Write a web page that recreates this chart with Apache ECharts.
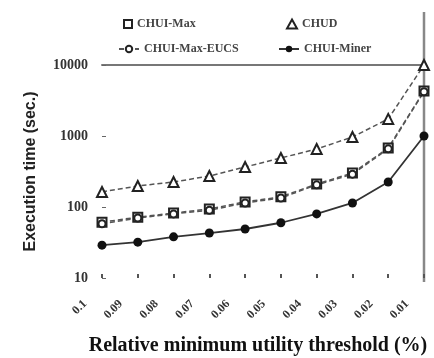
<!DOCTYPE html>
<html>
<head>
<meta charset="utf-8">
<script src="https://cdn.jsdelivr.net/npm/echarts@6/dist/echarts.min.js"></script>
<style>
  html, body { margin: 0; padding: 0; background: #fff; }
  #chart { width: 434px; height: 358px; }
</style>
</head>
<body>
<div id="chart"></div>
<script>
const thresholds = ["0.1", "0.09", "0.08", "0.07", "0.06", "0.05", "0.04", "0.03", "0.02", "0.01"];
const yTicks = [10, 100, 1000, 10000];

const chuiMax = [61, 72, 82, 94, 118, 139, 211, 301, 678, 4300];
const chud = [163, 198, 225, 273, 366, 490, 656, 968, 1740, 10000];
const chuiMaxEucs = [58, 70, 80, 90, 114, 134, 205, 290, 660, 4200];
const chuiMiner = [29, 32, 38, 43, 49, 60, 80, 114, 225, 1000];

const lineColor = "#555";
const markColor = "#222";

const dashedLine = { color: lineColor, width: 1.5, type: [5, 3] };

const chart = echarts.init(document.getElementById("chart"));

const legendText = { color: "#444", fontSize: 12, fontFamily: "Liberation Serif", fontWeight: "bold" };

chart.setOption({
  animation: false,
  grid: { left: 102, right: 10, top: 65, bottom: 80, outerBoundsMode: "none", containLabel: false },
  legend: [
    { data: [{ name: "CHUI-Max", icon: "emptyRect" }], left: 118, top: 13, itemWidth: 8, itemHeight: 8, textStyle: legendText },
    { data: [{ name: "CHUD", icon: "emptyTriangle" }], left: 281, top: 13, itemWidth: 10, itemHeight: 9, textStyle: legendText },
    { data: ["CHUI-Max-EUCS"], left: 113, top: 38, itemWidth: 20, itemHeight: 8, textStyle: legendText },
    { data: ["CHUI-Miner"], left: 273, top: 38, itemWidth: 20, itemHeight: 8, textStyle: legendText }
  ],
  xAxis: [
    {
      type: "category",
      data: thresholds,
      boundaryGap: false,
      name: "Relative minimum utility threshold (%)",
      nameLocation: "middle",
      nameGap: 58,
      nameTextStyle: { fontFamily: "Liberation Serif", fontWeight: "bold", fontSize: 20, color: "#111", padding: [0, 10, 0, 0] },
      axisLine: { show: false },
      axisTick: { show: true, inside: true, length: 4, alignWithLabel: true, lineStyle: { color: "#555", width: 2 } },
      axisLabel: {
        rotate: 45,
        margin: 7,
        padding: [0, 24, 0, 0],
        fontFamily: "Liberation Serif",
        fontWeight: "bold",
        fontSize: 12,
        color: "#333"
      }
    },
    {
      type: "category",
      data: thresholds,
      boundaryGap: false,
      position: "top",
      axisLine: { show: true, lineStyle: { color: "#777", width: 2 } },
      axisTick: { show: false },
      axisLabel: { show: false }
    }
  ],
  yAxis: {
    type: "log",
    logBase: 10,
    min: yTicks[0],
    max: yTicks[yTicks.length - 1],
    name: "Execution time (sec.)",
    nameLocation: "middle",
    nameGap: 63,
    nameTextStyle: { fontFamily: "Liberation Sans", fontWeight: "bold", fontSize: 16, color: "#222" },
    axisLine: { show: false },
    axisTick: { show: true, inside: true, length: 4, lineStyle: { color: "#666" } },
    axisLabel: {
      margin: 14,
      fontFamily: "Liberation Serif",
      fontWeight: "bold",
      fontSize: 14,
      color: "#333",
      formatter: (v) => String(v)
    },
    splitLine: { show: false }
  },
  graphic: [
    { type: "line", shape: { x1: 424, y1: 12, x2: 424, y2: 282 }, style: { stroke: "#888", lineWidth: 2.5 } }
  ],
  series: [
    {
      name: "CHUI-Max",
      type: "line",
      data: chuiMax,
      symbol: "emptyRect",
      symbolSize: 9,
      lineStyle: dashedLine,
      itemStyle: { color: markColor, borderWidth: 1.5 }
    },
    {
      name: "CHUD",
      type: "line",
      data: chud,
      symbol: "emptyTriangle",
      symbolSize: 10,
      lineStyle: dashedLine,
      itemStyle: { color: markColor, borderWidth: 1.5 }
    },
    {
      name: "CHUI-Max-EUCS",
      type: "line",
      data: chuiMaxEucs,
      symbol: "emptyCircle",
      symbolSize: 7,
      lineStyle: dashedLine,
      itemStyle: { color: markColor, borderWidth: 1.2 }
    },
    {
      name: "CHUI-Miner",
      type: "line",
      data: chuiMiner,
      symbol: "circle",
      symbolSize: 9,
      lineStyle: { color: "#333", width: 1.8 },
      itemStyle: { color: "#111" }
    }
  ]
});
</script>
</body>
</html>
